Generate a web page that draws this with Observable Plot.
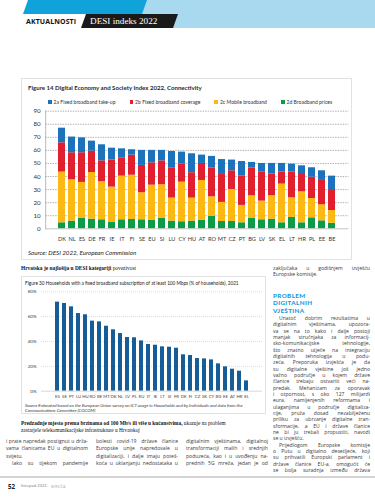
<!DOCTYPE html>
<html><head><meta charset="utf-8">
<script src="https://cdn.jsdelivr.net/npm/d3@7"></script>
<script src="https://cdn.jsdelivr.net/npm/@observablehq/plot@0.6"></script>
<style>
html,body{margin:0;padding:0;background:#fff;}
body{width:375px;height:499px;position:relative;overflow:hidden;font-family:Lato,"Open Sans",sans-serif;}
.abs{position:absolute;white-space:nowrap;}
.box{position:absolute;border:1px solid #e2e2e2;box-sizing:border-box;}
.ln{position:absolute;white-space:nowrap;text-align:justify;text-align-last:justify;line-height:1;}
.ln.l{text-align-last:left;}
.body{font-family:"Open Sans",sans-serif;font-size:5.1px;color:#3a3a3a;}
.serif{font-family:"Liberation Serif","DejaVu Serif",serif;}
.hd{position:absolute;left:273px;font:900 6.3px Lato,sans-serif;color:#1b9bd7;line-height:1;letter-spacing:0.35px;white-space:nowrap;}
</style></head><body>
<svg class="abs" style="left:0;top:0" width="375" height="30">
  <polygon points="146,0 375,0 375,28 135,28" fill="#a8d9ef"/>
  <polygon points="28,0 147,0 142,14 23,14" fill="#0fa3da"/>
  <polygon points="86,14 178,14 173,28 81,28" fill="#1a1a1a"/>
</svg>
<div class="abs" style="left:26px;top:17px;font:bold 7px 'Open Sans',sans-serif;color:#111;letter-spacing:0.1px">AKTUALNOSTI</div>
<div class="abs serif" style="left:90px;top:15.5px;font-size:9.2px;color:#fff">DESI indeks 2022</div>

<div class="box" style="left:21px;top:78px;width:331px;height:182px"></div>
<div class="abs" style="left:28px;top:84px;font:bold 6.1px Lato,sans-serif;color:#1f2937">Figure 14 Digital Economy and Society Index 2022, Connectivity</div>
<div id="legend14" class="abs" style="left:48px;top:98.8px;display:flex;gap:14px;font:5.05px Lato,sans-serif;color:#333"></div>
<div id="chart14"></div>
<div class="abs" style="left:28px;top:249px;font:italic 6.2px Lato,sans-serif;color:#222">Source: DESI 2022, European Commission</div>

<div class="abs serif" style="left:21px;top:264.5px;font-size:5.4px;color:#111"><b>Hrvatska je najlošija u DESI kategoriji</b> povezivost</div>

<div class="box" style="left:21px;top:276px;width:245px;height:138px"></div>
<div class="abs" style="left:25px;top:280px;font:4.7px Lato,sans-serif;color:#222">Figure 30 Households with a fixed broadband subscription of at least 100 Mbps (% of households), 2021</div>
<div id="chart30"></div>
<div class="abs" style="left:25px;top:402.5px;font:italic 4.4px Lato,sans-serif;color:#333;line-height:5.6px">Source Estimated based on the European Union survey on ICT usage in Households and by Individuals and data from the<br>Communications Committee (COCOM)</div>

<div class="abs serif" style="left:21px;top:420px;font-size:5.3px;color:#111;line-height:7px"><b>Predzadnje mjesto prema brzinama od 100 Mb/s ili više u kućanstvima,</b> ukazuje na problem<br>zastarjele telekomunikacijske infrastrukture u Hrvatskoj</div>

<div id="text"></div>
<div class="hd" style="top:292.5px">PROBLEM</div>
<div class="hd" style="top:300.2px">DIGITALNIH</div>
<div class="hd" style="top:307.9px">VJEŠTINA</div>

<div class="abs" style="left:0;top:476px;width:375px;height:2px;background:#d4d4d4"></div>
<div class="abs" style="left:8px;top:482px;font:bold 6.2px 'Open Sans',sans-serif;color:#222">52</div>
<div class="abs" style="left:21px;top:483.3px;font:4.1px 'Open Sans',sans-serif;color:#777">listopad 2022.</div>
<div class="abs" style="left:51px;top:483.5px;font:3.9px 'Open Sans',sans-serif;color:#aaa;letter-spacing:0.4px">MREŽA</div>

<script>
// ---------- Figure 14 data ----------
const countries14 = ["DK","NL","ES","DE","FR","IE","IT","FI","SE","EU","SI","LU","CY","HU","AT","RO","MT","CZ","PT","BG","LV","SK","EL","LT","HR","PL","EE","BE"];
const series14 = ["2a Fixed broadband take-up","2b Fixed broadband coverage","2c Mobile broadband","2d Broadband prices"];
const colors14 = ["#1c73bb","#e11f2f","#fdb913","#0d9b48"];
const takeUp   = [11.2,12.0,11.4,7.7,12.3,9.1,7.2,4.1,11.5,9.5,8.0,12.5,9.2,14.5,6.4,9.0,11.4,8.2,11.2,4.4,6.4,8.2,6.6,6.1,5.9,7.2,7.4,11.0];
const coverage = [22.4,20.7,22.7,16.3,16.0,20.7,13.7,15.4,20.9,17.1,18.3,23.2,13.8,19.4,13.0,21.9,21.4,14.3,22.4,21.1,22.4,16.5,9.2,19.7,14.0,16.3,18.6,15.3];
const mobile   = [38.8,31.6,27.6,35.7,29.1,27.1,33.4,33.9,20.7,27.0,25.5,17.6,30.3,17.6,30.6,15.1,14.6,24.5,13.3,17.1,14.3,17.9,29.6,15.0,23.7,14.8,12.3,9.7];
const prices   = [4.6,5.9,7.9,7.4,6.9,4.8,6.9,7.1,6.9,6.4,8.2,5.9,5.4,5.9,6.4,9.4,5.6,5.6,4.6,8.2,6.9,7.4,4.6,8.7,4.6,8.4,6.1,4.3];
const yTicks14 = [0,10,20,30,40,50,60,70,80,90];

// ---------- Figure 30 data ----------
const countries30 = ["ES","SE","PT","LU","HU","RO","BE","MT","DK","NL","LV","PL","EU","IT","IE","LT","SI","FR","DE","FI","CZ","SK","CY","BG","EE","AT","HR","EL"];
const share100 = [71.7,70.6,67.9,62.5,61.5,56.4,55.8,52.3,49.4,46.4,43.2,43.0,40.5,37.6,37.0,35.7,35.4,34.6,29.3,28.7,26.3,26.0,25.2,22.0,19.6,17.7,16.1,8.3];
const yTicks30 = [0,20,40,60,80];

// ---------- Figure 14 chart ----------
const table14 = [];
countries14.forEach((c,i)=>{
  table14.push({country:c, series:series14[3], value:prices[i]});
  table14.push({country:c, series:series14[2], value:mobile[i]});
  table14.push({country:c, series:series14[1], value:coverage[i]});
  table14.push({country:c, series:series14[0], value:takeUp[i]});
});
const chart14 = Plot.plot({
  width:375, height:140,
  marginLeft:45.2, marginRight:26.6, marginTop:5.7, marginBottom:16.7,
  style:{fontFamily:"Lato, sans-serif", color:"#333", background:"transparent", overflow:"visible"},
  x:{domain:countries14, padding:0.34},
  y:{domain:[0,90]},
  color:{domain:series14, range:colors14},
  marks:[
    Plot.frame({anchor:"left", stroke:"#a0a0a0", strokeDasharray:"1.4,1.1", strokeWidth:0.8}),
    Plot.ruleY(yTicks14.filter(d=>d>0), {stroke:"#9c9c9c", strokeDasharray:"1.4,1.1", strokeWidth:0.8}),
    Plot.barY(table14, {x:"country", y:"value", fill:"series"}),
    Plot.ruleY([0], {stroke:"#b5b5b5", strokeWidth:0.8}),
    Plot.axisY({ticks:yTicks14, tickSize:0, tickPadding:5, fontSize:6.2, label:null}),
    Plot.axisX({tickSize:0, tickPadding:8, fontSize:5.6, label:null})
  ]
});
chart14.style.position="absolute"; chart14.style.left="0px"; chart14.style.top="105px";
document.getElementById("chart14").appendChild(chart14);

// legend
const lg = document.getElementById("legend14");
series14.forEach((s,i)=>{
  const it = document.createElement("div");
  it.style.cssText="display:flex;align-items:center;gap:2px;white-space:nowrap";
  it.innerHTML = `<span style="display:inline-block;width:3.6px;height:3.6px;background:${colors14[i]}"></span><span>${s}</span>`;
  lg.appendChild(it);
});

// ---------- Figure 30 chart ----------
const table30 = countries30.map((c,i)=>({country:c, value:share100[i]}));
const chart30 = Plot.plot({
  width:270, height:115,
  marginLeft:41, marginRight:8, marginTop:5.3, marginBottom:10.3,
  style:{fontFamily:"Lato, sans-serif", color:"#444", background:"transparent", overflow:"visible"},
  x:{domain:countries30, padding:0.4},
  y:{domain:[0,80]},
  marks:[
    Plot.ruleY(yTicks30.filter(d=>d>0), {stroke:"#c4c4c4", strokeDasharray:"1,1", strokeWidth:0.6}),
    Plot.barY(table30, {x:"country", y:"value", fill:"#165d98"}),
    Plot.ruleY([0], {stroke:"#c8c8c8", strokeWidth:0.7}),
    Plot.axisY({ticks:yTicks30, tickFormat:d=>d+"%", tickSize:0, tickPadding:5, fontSize:4.5, label:null}),
    Plot.axisX({tickSize:0, tickPadding:4.2, fontSize:4.3, label:null})
  ]
});
chart30.style.position="absolute"; chart30.style.left="0px"; chart30.style.top="286px";
document.getElementById("chart30").appendChild(chart30);

// ---------- body text ----------
const rightTop = ["zaključaka u godišnjem izvješću","Europske komisije."];
const rightBody = ["Unatoč dobrim rezultatima u","digitalnim vještinama, upozora-","va se na to kako i dalje postoji","manjak stručnjaka za informacij-","sko-komunikacijske tehnologije,","što znatno utječe na integraciju","digitalnih tehnologija u podu-","zeća. Preporuka izvješća je da","su digitalne vještine još jedno","važno područje u kojem države","članice trebaju ostvariti veći na-","predak. Mehanizam za oporavak","i otpornost, s oko 127 milijardi","eura, namijenjenih reformama i","ulaganjima u područje digitaliza-","cije, pruža dosad nezabilježenu","priliku za ubrzanje digitalne tran-","sformacije, a EU i države članice","ne bi ju trebali propustiti, navodi","se u izvješću.","Prijedlogom Europske komisije","o Putu u digitalno desetljeće, koji","su prihvatili Europski parlament i","države članice EU-a, omogućit će","se bolja suradnja između država"];
const col1 = ["i prate napredak postignut u drža-","vama članicama EU u digitalnom","svijetu.","Iako su tijekom pandemije"];
const col2 = ["bolesti covid-19 države članice","Europske unije napredovale u","digitalizaciji, i dalje imaju poteš-","koća u uklanjanju nedostataka u"];
const col3 = ["digitalnim vještinama, digitalnoj","transformaciji malih i srednjih","poduzeća, kao i u uvođenju na-","prednih 5G mreža, jedan je od"];
const txt = document.getElementById("text");
function block(lines, x, y0, step, w, lastIdx=[], indentIdx=[]){
  lines.forEach((s,i)=>{
    const d=document.createElement("div");
    d.className="ln body"+(lastIdx.includes(i)?" l":"");
    const ind = indentIdx.includes(i)?6:0;
    d.style.left=(x+ind)+"px"; d.style.top=(y0+i*step)+"px"; d.style.width=(w-ind)+"px";
    d.textContent=s; txt.appendChild(d);
  });
}
block(rightTop, 273, 265.5, 6.6, 97, [1]);
block(rightBody, 273, 316, 6.33, 97, [19], [0,20]);
block(col1, 6, 438.5, 7.6, 82, [2], [3]);
block(col2, 96, 438.5, 7.6, 82);
block(col3, 186, 438.5, 7.6, 82);
</script>
</body></html>
